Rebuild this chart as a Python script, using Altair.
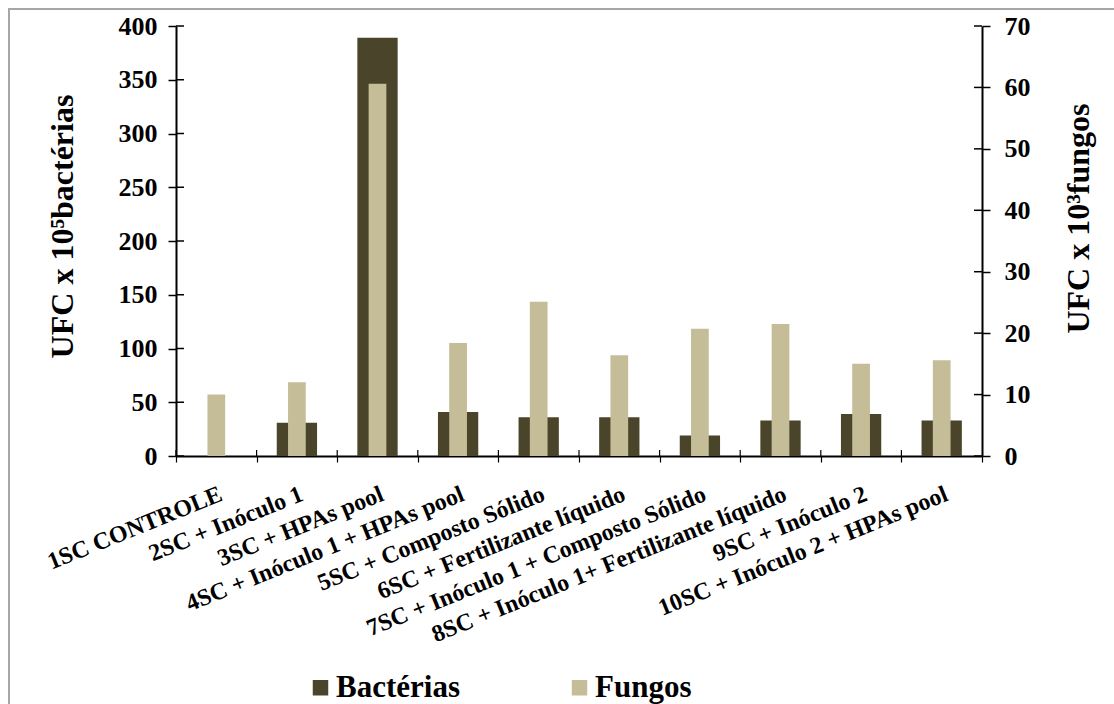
import altair as alt
import pandas as pd

# Tratamentos (eixo x)
tratamentos = [
    "1SC CONTROLE",
    "2SC + Inóculo 1",
    "3SC + HPAs pool",
    "4SC + Inóculo 1 + HPAs pool",
    "5SC + Composto Sólido",
    "6SC + Fertilizante líquido",
    "7SC + Inóculo 1 + Composto  Sólido",
    "8SC + Inóculo 1+ Fertilizante líquido",
    "9SC + Inóculo 2",
    "10SC + Inóculo 2 + HPAs pool",
]

# UFC x 10^5 bactérias (eixo esquerdo)
bacterias = [0, 31, 389, 41, 36, 36, 19, 33, 39, 33]
# UFC x 10^3 fungos (eixo direito)
fungos = [10, 12, 60.6, 18.4, 25.1, 16.4, 20.7, 21.5, 15.0, 15.6]

ticks_bact = list(range(0, 401, 50))
ticks_fung = list(range(0, 71, 10))

series = ["Bactérias", "Fungos"]
cores = ["#4A452A", "#C4BD97"]

W, H = 806, 430
FONT = "Liberation Serif"

df_bact = pd.DataFrame({"trat": tratamentos, "valor": bacterias, "serie": "Bactérias"})
df_fung = pd.DataFrame({"trat": tratamentos, "valor": fungos, "serie": "Fungos"})
df_tb = pd.DataFrame({"valor": ticks_bact})
df_tf = pd.DataFrame({"valor": ticks_fung})
df_cat = pd.DataFrame({"trat": tratamentos})
df_one = pd.DataFrame({"a": [0]})

x_scale = alt.Scale(paddingInner=0, paddingOuter=0)
x_axis = alt.Axis(
    title=None,
    labelAngle=-22,
    labelAlign="right",
    labelBaseline="top",
    labelFont=FONT,
    labelFontWeight="bold",
    labelFontSize=24,
    labelColor="black",
    labelLimit=1000,
    labelOverlap=False,
    labelPadding=20,
    tickBand="extent",
    tickSize=6,
    tickColor="black",
    tickWidth=1.2,
    domainColor="black",
    domainWidth=2,
)

y_left_scale = alt.Scale(domain=[0, 400], nice=False)
y_right_scale = alt.Scale(domain=[0, 70], nice=False)

y_left_axis = alt.Axis(
    orient="left",
    title="UFC x 10⁵bactérias",
    values=ticks_bact,
    labelFont=FONT,
    labelFontWeight="bold",
    labelFontSize=26,
    labelColor="black",
    labelPadding=11,
    tickSize=8,
    tickColor="black",
    tickWidth=1.5,
    domainColor="black",
    domainWidth=2,
    titleFont=FONT,
    titleFontWeight="bold",
    titleFontSize=32,
    titleColor="black",
    titleAngle=270,
    titleAlign="center",
    titleBaseline="middle",
    titleX=-114,
    titleY=200,
)

y_right_axis = alt.Axis(
    orient="right",
    title="UFC x 10³fungos",
    values=ticks_fung,
    labelFont=FONT,
    labelFontWeight="bold",
    labelFontSize=26,
    labelColor="black",
    labelPadding=14,
    tickSize=8,
    tickColor="black",
    tickWidth=1.5,
    domainColor="black",
    domainWidth=2,
    titleFont=FONT,
    titleFontWeight="bold",
    titleFontSize=32,
    titleColor="black",
    titleAngle=270,
    titleAlign="center",
    titleBaseline="middle",
    titleX=96,
    titleY=192,
)

color_enc = alt.Color(
    "serie:N",
    scale=alt.Scale(domain=series, range=cores),
    legend=alt.Legend(
        orient="none",
        legendX=129,
        legendY=646,
        direction="horizontal",
        columns=2,
        title=None,
        symbolType="square",
        symbolSize=240,
        symbolStrokeWidth=0,
        symbolOpacity=1,
        labelFont=FONT,
        labelFontSize=31,
        labelFontWeight="bold",
        labelColor="black",
        labelOffset=0,
        columnPadding=104,
        padding=0,
    ),
)

x_enc = alt.X("trat:N", sort=tratamentos, scale=x_scale, axis=x_axis)

# chart-area frame
frame = alt.Chart(df_one).mark_rect(
    fillOpacity=0, stroke="#A6A6A6", strokeWidth=2
).encode(
    x=alt.value(-167), x2=alt.value(W + 200),
    y=alt.value(-17), y2=alt.value(H + 300),
)

bact_bars = alt.Chart(df_bact).mark_bar(width=alt.RelativeBandSize(0.5)).encode(
    x=x_enc,
    y=alt.Y("valor:Q", scale=y_left_scale, axis=y_left_axis),
    color=color_enc,
)

# inner halves of the crossing tick marks
left_in = alt.Chart(df_tb).mark_rule(color="black", strokeWidth=1.5).encode(
    y=alt.Y("valor:Q", scale=y_left_scale, axis=y_left_axis),
    x=alt.value(0), x2=alt.value(8),
)

x_in = alt.Chart(df_cat).mark_rule(color="black", strokeWidth=1.2).encode(
    x=alt.X("trat:N", sort=tratamentos, scale=x_scale, axis=x_axis, bandPosition=0),
    y=alt.value(H - 6), y2=alt.value(H),
)

fung_bars = alt.Chart(df_fung).mark_bar(width=alt.RelativeBandSize(0.22)).encode(
    x=x_enc,
    y=alt.Y("valor:Q", scale=y_right_scale, axis=y_right_axis),
    color=color_enc,
)

right_in = alt.Chart(df_tf).mark_rule(color="black", strokeWidth=1.5).encode(
    y=alt.Y("valor:Q", scale=y_right_scale, axis=y_right_axis),
    x=alt.value(W - 8), x2=alt.value(W),
)

left_group = alt.layer(frame, bact_bars, left_in, x_in)
right_group = alt.layer(fung_bars, right_in)

chart = (
    alt.layer(left_group, right_group)
    .resolve_scale(y="independent")
    .properties(
        width=W,
        height=H,
        padding={"left": 176, "top": 26, "right": 132, "bottom": 248},
        autosize=alt.AutoSizeParams(type="none"),
        background="white",
    )
    .configure_view(strokeWidth=0)
    .configure_axis(grid=False)
)

chart.save("out.html", embed_options={"renderer": "svg", "actions": False})
